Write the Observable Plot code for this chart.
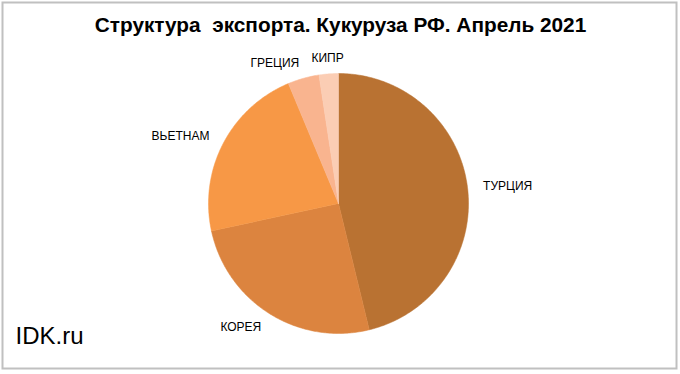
<!DOCTYPE html>
<html>
<head>
<meta charset="utf-8">
<script src="https://cdn.jsdelivr.net/npm/d3@7"></script>
<script src="https://cdn.jsdelivr.net/npm/@observablehq/plot@0.6"></script>
<style>
  html, body { margin: 0; padding: 0; background: #fff; }
</style>
</head>
<body>
<div id="chart"></div>
<script>
const countries = ["ТУРЦИЯ", "КОРЕЯ", "ВЬЕТНАМ", "ГРЕЦИЯ", "КИПР"];
const shares = [46.2, 25.4, 22.1, 3.9, 2.4];
const colors = ["#B97232", "#DC843F", "#F79846", "#F9B48F", "#FBCDB4"];
const title = "Структура  экспорта. Кукуруза РФ. Апрель 2021";
const source = "IDK.ru";

const W = 680, H = 374, R = 130, CX = 338, CY = 203;

const arcs = d3.pie().sort(null).value(d => d.value)(
  countries.map((c, i) => ({ country: c, value: shares[i] }))
);

// Polygon points of each slice in unit-radius coordinates
const slicePts = [];
arcs.forEach(a => {
  const n = Math.max(2, Math.ceil((a.endAngle - a.startAngle) / 0.01));
  slicePts.push({ country: a.data.country, x: 0, y: 0 });
  for (let k = 0; k <= n; k++) {
    const t = a.startAngle + (a.endAngle - a.startAngle) * k / n;
    slicePts.push({ country: a.data.country, x: Math.sin(t), y: Math.cos(t) });
  }
  slicePts.push({ country: a.data.country, x: 0, y: 0 });
});

const labels = arcs.map(a => {
  const m = (a.startAngle + a.endAngle) / 2;
  const x = Math.sin(m) * 1.12, y = Math.cos(m) * 1.12;
  return { country: a.data.country, x, y, anchor: Math.abs(x) < 0.1 ? "middle" : (x > 0 ? "start" : "end") };
});

const chart = Plot.plot({
  width: W,
  height: H,
  margin: 0,
  x: { domain: [-CX / R, (W - CX) / R], axis: null },
  y: { domain: [-(H - CY) / R, CY / R], axis: null },
  color: { domain: countries, range: colors },
  style: { fontFamily: "Liberation Sans, Arial, sans-serif", background: "#fff" },
  marks: [
    Plot.frame({ stroke: "#c0c0c0", strokeWidth: 2, insetLeft: 2, insetTop: 2, insetRight: 4, insetBottom: 6 }),
    Plot.line(slicePts, { x: "x", y: "y", z: "country", fill: "country", stroke: "country", strokeWidth: 0.5, curve: "linear" }),
    Plot.text(labels.filter(d => d.anchor === "start"), { x: "x", y: "y", text: "country", textAnchor: "start", fontSize: 12, fill: "#000" }),
    Plot.text(labels.filter(d => d.anchor === "end"), { x: "x", y: "y", text: "country", textAnchor: "end", fontSize: 12, fill: "#000" }),
    Plot.text(labels.filter(d => d.anchor === "middle"), { x: "x", y: "y", text: "country", textAnchor: "middle", fontSize: 12, fill: "#000" }),
    Plot.text([title], { frameAnchor: "top", dy: 17, text: d => d, fontSize: 20.8, fontWeight: "bold", fill: "#000", dx: 0 }),
    Plot.text([source], { frameAnchor: "bottom-left", dx: 15, dy: -31, text: d => d, fontSize: 24, fill: "#000", textAnchor: "start" })
  ]
});
document.getElementById("chart").appendChild(chart);
</script>
</body>
</html>
